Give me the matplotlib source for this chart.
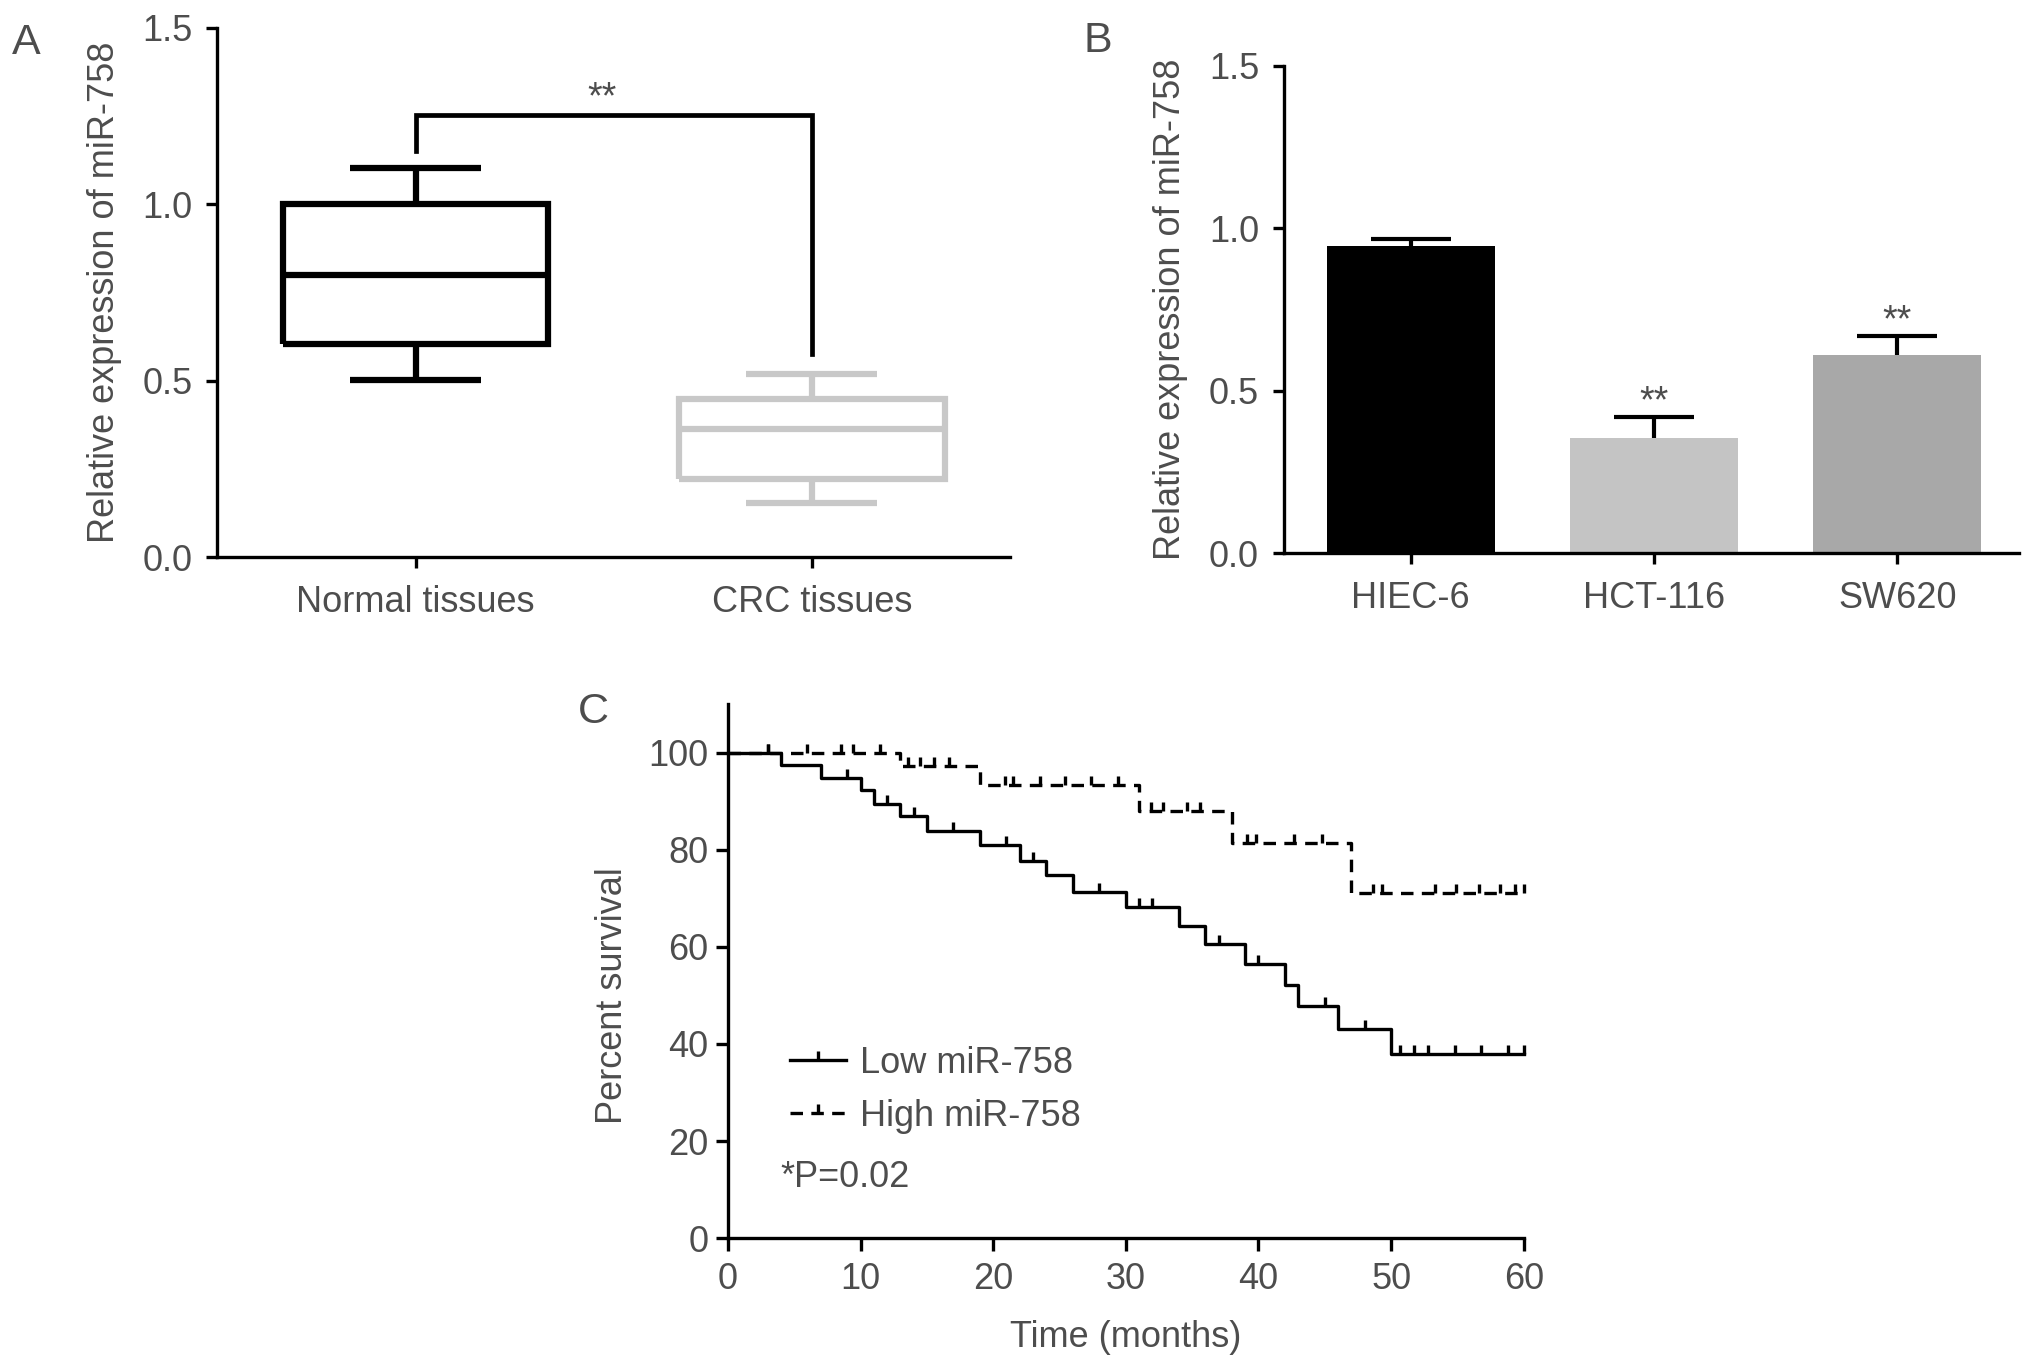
import numpy as np
import matplotlib
matplotlib.use('Agg')
import matplotlib.pyplot as plt
from matplotlib.lines import Line2D

plt.rcParams['font.family'] = ['Liberation Sans', 'DejaVu Sans']
plt.rcParams['lines.scale_dashes'] = False

# ---------------- Panel A data (box plot) ----------------
groups_a = ['Normal tissues', 'CRC tissues']
a_whislo = [0.502, 0.153]
a_q1 = [0.604, 0.221]
a_med = [0.800, 0.363]
a_q3 = [1.000, 0.450]
a_whishi = [1.103, 0.519]
a_colors = ['#000000', '#c8c8c8']
a_sig_text = '**'
a_bracket_left = 1.152
a_bracket_top = 1.254
a_bracket_right = 0.575

# ---------------- Panel B data (bar chart) ----------------
cells_b = ['HIEC-6', 'HCT-116', 'SW620']
b_mean = [0.945, 0.355, 0.611]
b_err = [0.023, 0.065, 0.057]
b_sig = ['', '**', '**']
b_colors = ['#000000', '#c4c4c4', '#a8a8a8']

# ---------------- Panel C data (Kaplan-Meier) ----------------
low_t = [0, 4, 7, 10, 11, 13, 15, 19, 22, 24, 26, 30, 34, 36, 39, 42, 43, 46, 50, 60]
low_s = [100, 97.5, 94.8, 92.4, 89.4, 86.9, 83.8, 81.0, 77.7, 74.8, 71.3, 68.2,
         64.4, 60.6, 56.5, 52.2, 47.8, 43.1, 37.9, 37.9]
low_cens = [3, 9, 12, 14, 17, 21, 23, 28, 31, 32, 37, 40, 45, 48,
            50.7, 51.7, 52.8, 54.8, 56.8, 58.8, 60]

high_t = [0, 13, 19, 31, 38, 47, 60]
high_s = [100, 97.2, 93.4, 87.9, 81.3, 71.0, 71.0]
high_cens = [3, 6, 8.5, 9.4, 11.5, 13.6, 14.5, 15.5, 16.7, 20.9, 21.5, 23.5, 25.4,
             27.4, 29.4, 31.9, 32.8, 34.6, 35.6, 39.1, 39.8, 42.7, 44.8, 48.6, 49.3,
             53.3, 54.9, 56.6, 58.2, 59.3, 60]
p_text = '*P=0.02'

W, H = 2031, 1368
TXT = '#4d4d4d'
FS = 26
SPW = 2.4

fig = plt.figure(figsize=(W / 100, H / 100), dpi=100)


def style_axes(ax):
    for s in ['top', 'right']:
        ax.spines[s].set_visible(False)
    for s in ['left', 'bottom']:
        ax.spines[s].set_linewidth(SPW)
        ax.spines[s].set_color('black')


# ================= Panel A =================
axA = fig.add_axes([217.5 / W, 1 - 557.4 / H, (1010 - 217.5) / W, (557.4 - 27.9) / H])
stats = []
for i in range(len(groups_a)):
    stats.append(dict(label=groups_a[i], whislo=a_whislo[i], q1=a_q1[i], med=a_med[i],
                      q3=a_q3[i], whishi=a_whishi[i], fliers=[]))
res = axA.bxp(stats, positions=range(len(groups_a)), widths=0.67, capwidths=0.33,
              showfliers=False)
for i, c in enumerate(a_colors):
    arts = [res['boxes'][i], res['medians'][i], res['whiskers'][2 * i],
            res['whiskers'][2 * i + 1], res['caps'][2 * i], res['caps'][2 * i + 1]]
    for a in arts:
        a.set_color(c)
        a.set_linewidth(4.5)
        a.set_solid_capstyle('butt')
        a.set_solid_joinstyle('miter')
# significance bracket
axA.plot([0, 0, 1, 1], [a_bracket_left, a_bracket_top, a_bracket_top, a_bracket_right],
         color='black', lw=3.4, solid_joinstyle='miter')
axA.text(0.47, 1.30, a_sig_text, ha='center', va='center', fontsize=27, color=TXT)
axA.set_xlim(-0.5, 1.5)
axA.set_ylim(0, 1.5)
axA.set_yticks([0, 0.5, 1.0, 1.5])
axA.set_yticklabels(['0.0', '0.5', '1.0', '1.5'])
axA.set_xticks(range(len(groups_a)))
axA.set_xticklabels(groups_a)
style_axes(axA)
axA.tick_params(axis='both', length=8, width=SPW, labelsize=FS, labelcolor=TXT)
axA.tick_params(axis='y', pad=10)
axA.tick_params(axis='x', pad=12)
axA.set_ylabel('Relative expression of miR-758', fontsize=FS, color=TXT, va='center')
axA.yaxis.set_label_coords(-0.143, 0.5)

# ================= Panel B =================
axB = fig.add_axes([1284 / W, 1 - 553.3 / H, (2019 - 1284) / W, (553.3 - 65.6) / H])
xb = np.arange(len(cells_b))
axB.bar(xb, b_mean, width=0.69, color=b_colors, zorder=2)
eb = axB.errorbar(xb, b_mean, yerr=[np.zeros(len(b_err)), b_err], fmt='none',
                  ecolor='black', elinewidth=3.0, capsize=28.8, capthick=3.0, zorder=1)
for cl in eb[1]:
    if np.allclose(cl.get_ydata(), b_mean):
        cl.set_visible(False)
for i in range(len(cells_b)):
    if b_sig[i]:
        axB.text(xb[i], b_mean[i] + b_err[i] + 0.045, b_sig[i], ha='center', va='center',
                 fontsize=27, color=TXT)
axB.set_xlim(-0.52, 2.5)
axB.set_ylim(0, 1.5)
axB.set_yticks([0, 0.5, 1.0, 1.5])
axB.set_yticklabels(['0.0', '0.5', '1.0', '1.5'])
axB.set_xticks(xb)
axB.set_xticklabels(cells_b)
style_axes(axB)
axB.tick_params(axis='both', length=8, width=SPW, labelsize=FS, labelcolor=TXT)
axB.tick_params(axis='y', pad=10)
axB.tick_params(axis='x', pad=12)
axB.set_ylabel('Relative expression of miR-758', fontsize=FS, color=TXT, va='center')
axB.yaxis.set_label_coords(-0.155, 0.5)

# ================= Panel C =================
axC = fig.add_axes([727.9 / W, 1 - 1238.1 / H, (1523.8 - 727.9) / W, (1238.1 - 704.2) / H])
tick_marker = [(0, 0), (0, 1)]
LW = 2.4
dash = (0, (9, 6))


def surv_at(times, surv, tq):
    idx = np.searchsorted(np.asarray(times), np.asarray(tq), side='right') - 1
    return np.asarray(surv)[idx]


axC.step(low_t, low_s, where='post', color='black', lw=LW, clip_on=False)
axC.plot(low_cens, surv_at(low_t, low_s, low_cens), linestyle='none', marker=tick_marker,
         ms=13, mew=LW, color='black', clip_on=False)
axC.step(high_t, high_s, where='post', color='black', lw=LW, linestyle=dash, clip_on=False)
axC.plot(high_cens, surv_at(high_t, high_s, high_cens), linestyle='none', marker=tick_marker,
         ms=13, mew=LW, color='black', clip_on=False)

h_low = Line2D([], [], color='black', lw=LW, marker=tick_marker, ms=13, mew=LW)
h_high = Line2D([], [], color='black', lw=LW, linestyle=dash, marker=tick_marker, ms=13, mew=LW)
leg = axC.legend([h_low, h_high], ['Low miR-758', 'High miR-758'], loc='center left',
                 bbox_to_anchor=(4.68, 30.5), bbox_transform=axC.transData, frameon=False,
                 fontsize=FS, borderpad=0, borderaxespad=0, handlelength=1.55,
                 handletextpad=0.4, labelspacing=0.5, numpoints=1)
for t in leg.get_texts():
    t.set_color(TXT)
axC.text(3.93, 12.4, p_text, ha='left', va='center', fontsize=FS, color=TXT)

axC.set_xlim(0, 60)
axC.set_ylim(0, 110)
axC.set_xticks(range(0, 61, 10))
axC.set_yticks(range(0, 101, 20))
style_axes(axC)
axC.tick_params(axis='both', length=9, width=SPW, labelsize=FS, labelcolor=TXT)
axC.tick_params(axis='y', pad=5)
axC.tick_params(axis='x', pad=8)
axC.set_ylabel('Percent survival', fontsize=FS, color=TXT, va='center')
axC.yaxis.set_label_coords(-0.1447, 50 / 110)
axC.set_xlabel('Time (months)', fontsize=FS, color=TXT, va='center')
axC.xaxis.set_label_coords(0.5, -0.187)

# panel letters
fig.text(26.6 / W, 1 - 43 / H, 'A', fontsize=31, color=TXT, ha='center', va='center')
fig.text(1098 / W, 1 - 41 / H, 'B', fontsize=31, color=TXT, ha='center', va='center')
fig.text(593 / W, 1 - 712 / H, 'C', fontsize=31, color=TXT, ha='center', va='center')

fig.savefig('out.png', dpi=100, facecolor='white')
